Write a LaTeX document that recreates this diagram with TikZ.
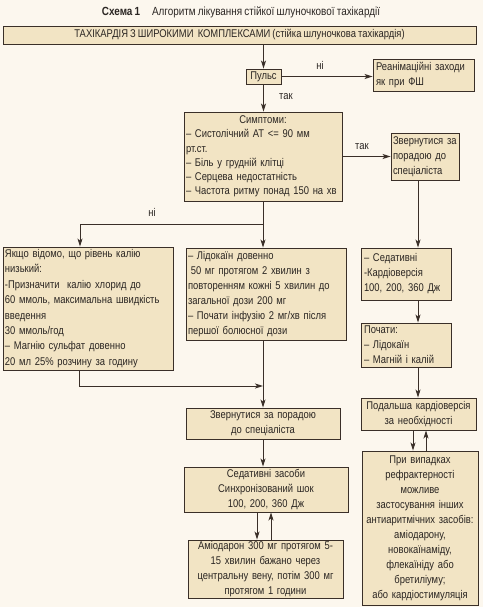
\documentclass[tikz,border=0pt]{standalone}
\usepackage{fontspec}
\setmainfont{Liberation Sans}[FakeStretch=0.84,WordSpace=0.8]
\usetikzlibrary{arrows.meta}
\definecolor{bg}{HTML}{FCF7EE}
\definecolor{boxfill}{HTML}{F2E4C4}
\definecolor{edge}{HTML}{3A2F28}
\definecolor{ink}{HTML}{2A2522}
\begin{document}
\begin{tikzpicture}[x=1pt,y=-1pt,
  bx/.style={draw=edge, fill=boxfill, line width=0.9pt, inner xsep=3pt, inner ysep=1pt,
    font=\fontsize{11.2}{15}\selectfont, text=ink},
  lbl/.style={font=\fontsize{11.2}{13}\selectfont, text=ink, inner sep=0pt},
  arr/.style={draw=edge, line width=0.9pt, -{Stealth[length=8pt,width=5pt,inset=2pt]}},
  ln/.style={draw=edge, line width=0.9pt}]
\fill[bg] (0,0) rectangle (483,607);
\useasboundingbox (0,0) rectangle (483,607);

\node[lbl, font=\fontsize{11.8}{13}\selectfont] (title) at (241,12) {\textbf{Схема 1}\quad Алгоритм лікування стійкої шлуночкової тахікардії};

\node[bx, minimum width=473pt, minimum height=18pt, align=center] (main) at (239.5,35)
  {ТАХІКАРДІЯ З ШИРОКИМИ\ \ КОМПЛЕКСАМИ (стійка шлуночкова тахікардія)};

\node[bx, minimum width=35pt, minimum height=15pt, inner xsep=1pt, align=center] (pulse) at (263.5,76.5) {Пульс};

\node[bx, text width=95pt, minimum height=32pt, align=left] (reanim) at (423.5,75)
  {Реанімаційні заходи\\як при ФШ};

\node[bx, text width=154pt, inner xsep=2pt, minimum height=89pt, align=left, font=\fontsize{11.2}{14.3}\selectfont] (sympt) at (263,156.5)
  {\makebox[154pt][c]{Симптоми:}\\
   – Систолічний АТ <= 90 мм\\
   рт.ст.\\
   – Біль у грудній клітці\\
   – Серцева недостатність\\
   – Частота ритму понад 150 на хв};

\node[bx, text width=64pt, inner xsep=2pt, minimum height=47pt, align=left] (zv1) at (425,156.5)
  {Звернутися за\\порадою до\\спеціаліста};

\node[bx, text width=84pt, minimum height=52pt, align=left] (sed1) at (406,274)
  {– Седативні\\-Кардіоверсія\\100, 200, 360 Дж};

\node[bx, text width=84pt, minimum height=44pt, align=left] (poch) at (406,345)
  {Почати:\\– Лідокаїн\\– Магній і калій};

\node[bx, text width=111pt, inner xsep=2pt, minimum height=32pt, align=center] (podal) at (418.5,414)
  {Подальша кардіоверсія\\за необхідності};

\node[bx, text width=112pt, inner xsep=2pt, minimum height=154pt, align=center] (pry) at (420,528)
  {При випадках\\рефрактерності\\можливе\\застосування інших\\антиаритмічних засобів:\\аміодарону,\\новокаїнаміду,\\флекаїніду або\\бретиліуму;\\або кардіостимуляція};

\node[bx, text width=166pt, inner xsep=2pt, minimum height=123pt, align=left, font=\fontsize{11.2}{15.4}\selectfont] (yak) at (88,308.5)
  {Якщо відомо, що рівень калію\\низький:\\-Призначити\ \ калію хлорид до\\60 ммоль, максимальна швидкість\\введення\\30 ммоль/год\\– Магнію сульфат довенно\\20 мл 25\% розчину за годину};

\node[bx, text width=156pt, inner xsep=2pt, minimum height=92pt, align=left] (lido) at (266,294)
  {– Лідокаїн довенно\\\hspace*{0.25em}50 мг протягом 2 хвилин з\\повторенням кожні 5 хвилин до\\загальної дози 200 мг\\– Почати інфузію 2 мг/хв після\\першої болюсної дози};

\node[bx, text width=148pt, minimum height=31pt, align=center] (zv2) at (263,423.5)
  {Звернутися за порадою\\до спеціаліста};

\node[bx, text width=158pt, minimum height=45pt, align=center] (sed2) at (266,489.5)
  {Седативні засоби\\Синхронізований шок\\100, 200, 360 Дж};

\node[bx, text width=151pt, inner xsep=2pt, minimum height=58pt, align=center] (amio) at (265.5,569)
  {Аміодарон 300 мг протягом 5-\\15 хвилин бажано через\\центральну вену, потім 300 мг\\протягом 1 години};

% connectors
\draw[arr] (main.south -| pulse.north) -- (pulse.north);
\draw[arr] (pulse.east) -- (pulse.east -| reanim.west);
\node[lbl] (l1) at (320,65) {ні};
\draw[arr] (pulse.south) -- (pulse.south |- sympt.north);
\node[lbl] (l2) at (286,97) {так};
\draw[arr] (sympt.east) -- (zv1.west);
\node[lbl] (l3) at (362,147) {так};

\coordinate (rc) at (418,0);
\draw[arr] (zv1.south -| rc) -- (sed1.north -| rc);
\draw[arr] (sed1.south -| rc) -- (poch.north -| rc);
\draw[arr] (poch.south -| rc) -- (podal.north -| rc);
\coordinate (pd) at (413,0);
\coordinate (pu) at (426,0);
\draw[arr] (podal.south -| pd) -- (pry.north -| pd);
\draw[arr] (pry.north -| pu) -- (podal.south -| pu);

\coordinate (br) at (263,224);
\coordinate (brl) at (80,224);
\draw[arr] (sympt.south -| br) -- (lido.north -| br);
\draw[ln] (br) -- (brl);
\draw[arr] (brl) -- (brl |- yak.north);
\node[lbl] (l4) at (152,212) {ні};

\draw[arr] (lido.south -| br) -- (zv2.north -| br);
\coordinate (j1) at (79,386);
\coordinate (j2) at (263,386);
\draw[arr] (yak.south -| j1) -- (j1) -- (j2);

\draw[arr] (zv2.south -| br) -- (sed2.north -| br);
\coordinate (sd) at (257,0);
\coordinate (su) at (271,0);
\draw[arr] (sed2.south -| sd) -- (amio.north -| sd);
\draw[arr] (amio.north -| su) -- (sed2.south -| su);
\end{tikzpicture}
\end{document}
